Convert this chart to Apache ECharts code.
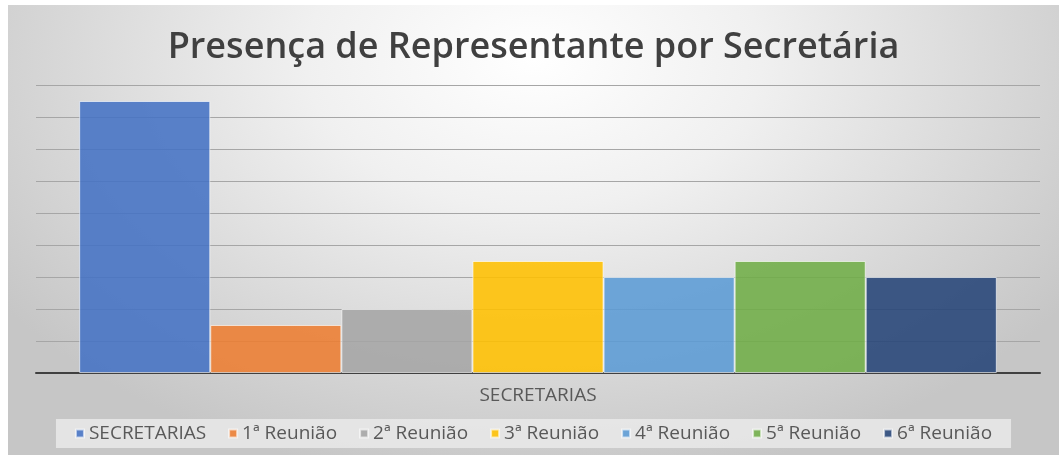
<!DOCTYPE html>
<html>
<head>
<meta charset="utf-8">
<script src="https://cdn.jsdelivr.net/npm/echarts@6/dist/echarts.min.js"></script>
<style>
  html, body { margin: 0; padding: 0; background: #ffffff; }
  #chart {
    position: absolute; left: 8px; top: 5px; width: 1051px; height: 450px;
    background: radial-gradient(ellipse 62% 95% at 50% 12%, #ffffff 0%, #f0f0f0 35%, #d6d6d6 75%, #c6c6c6 100%);
  }
</style>
</head>
<body>
<div id="chart"></div>
<script>
// categories and values
const categories = ['SECRETARIAS']
const seriesNames = ['SECRETARIAS', '1ª Reunião', '2ª Reunião', '3ª Reunião', '4ª Reunião', '5ª Reunião', '6ª Reunião']
const seriesValues = [17, 3, 4, 7, 6, 7, 6]
const seriesColors = ['#4472C4', '#ED7D31', '#A5A5A5', '#FFC000', '#5B9BD5', '#70AD47', '#264478']

const chart = echarts.init(document.getElementById('chart'))

chart.setOption({
  backgroundColor: 'transparent',
  title: {
    text: 'Presença de Representante por Secretária',
    left: 'center',
    top: 20,
    textStyle: {
      fontFamily: 'Open Sans',
      fontSize: 36,
      fontWeight: 600,
      color: '#404040'
    }
  },
  legend: {
    bottom: 7,
    left: 'center',
    data: seriesNames,
    itemWidth: 8,
    itemHeight: 8,
    itemGap: 22,
    icon: 'rect',
    padding: [5, 19],
    backgroundColor: 'rgba(235,235,235,0.8)',
    textStyle: {
      fontFamily: 'Open Sans',
      fontSize: 19,
      color: '#595959'
    }
  },
  grid: {
    left: 28,
    right: 19,
    top: 80,
    bottom: 82
  },
  xAxis: {
    type: 'category',
    data: categories,
    axisTick: { show: false },
    axisLine: { lineStyle: { color: '#404040', width: 2 } },
    axisLabel: {
      margin: 13,
      fontFamily: 'Open Sans',
      fontSize: 19,
      color: '#595959'
    }
  },
  yAxis: {
    type: 'value',
    min: 0,
    max: 18,
    interval: 2,
    axisLabel: { show: false },
    axisLine: { show: false },
    axisTick: { show: false },
    splitLine: { lineStyle: { color: '#a6a6a6', width: 1 } }
  },
  series: seriesNames.map((name, i) => ({
    name: name,
    type: 'bar',
    barGap: '0%',
    barCategoryGap: '8.6%',
    data: [seriesValues[i]],
    itemStyle: {
      color: seriesColors[i],
      opacity: 0.88,
      borderColor: 'rgba(255,255,255,0.7)',
      borderWidth: 1
    }
  }))
})
</script>
</body>
</html>
